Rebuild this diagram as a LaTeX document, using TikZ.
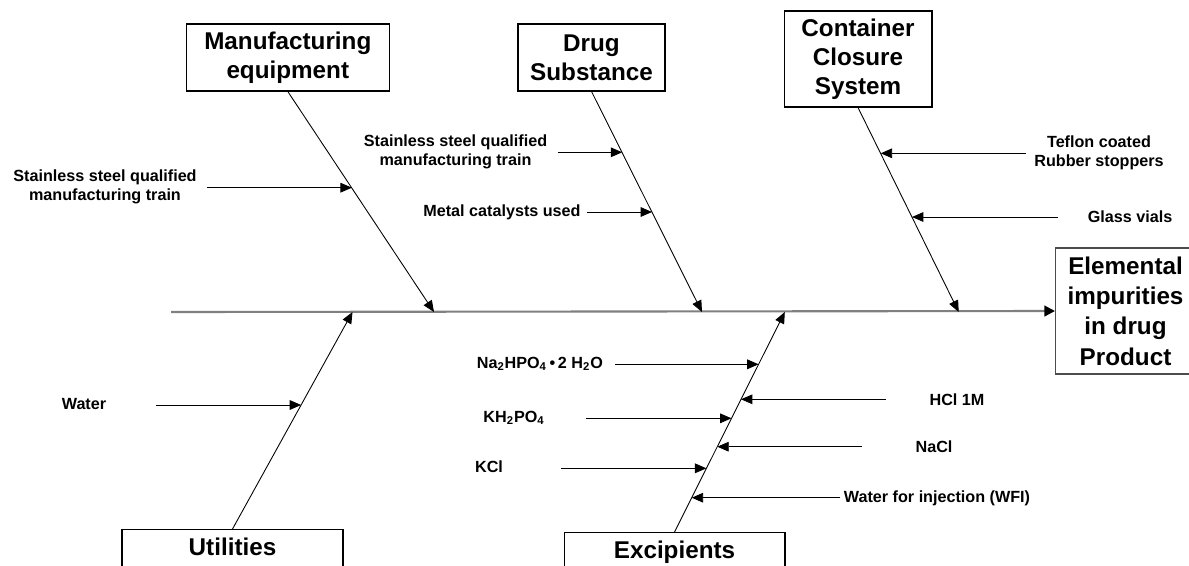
\documentclass[tikz,border=0pt]{standalone}
\usepackage{fontspec}
\setmainfont{Liberation Sans}
\usepackage{tikz}
\usetikzlibrary{arrows.meta}
\newcommand{\causefont}{\fontsize{13.8}{16.4}\selectfont\bfseries}
\newcommand{\factorfont}{\fontsize{9.2}{10.8}\selectfont\bfseries}
\tikzstyle{cause} = [rectangle, draw=black, line width=0.6pt, inner sep=0pt, text centered, align=center, font=\causefont]
\tikzstyle{factor} = [inner sep=0pt, text centered, align=center, font=\factorfont]
\tikzstyle{spine} = [line width=1.2pt, draw=black!50, -{Triangle[length=6pt,width=6pt,color=black]}]
\tikzstyle{bone} = [line width=0.5pt, -{Triangle[length=6.5pt,width=5.5pt]}]
\tikzstyle{arrow} = [line width=0.5pt, -{Triangle[length=6.5pt,width=5.5pt]}]

\begin{document}
\begin{tikzpicture}[x=0.02cm, y=-0.02cm]
   \useasboundingbox (0,0) rectangle (1189,565);
   % main causes
   \node (me) [cause, minimum width=4.06cm, minimum height=1.34cm] at (287.8,57.5) {Manufacturing\\equipment};
   \node (ds) [cause, minimum width=2.94cm, minimum height=1.34cm] at (591.5,57.5) {Drug\\Substance};
   \node (cc) [cause, minimum width=2.96cm, minimum height=1.92cm] at (858,59) {Container\\Closure\\System};
   \node (ut) [cause, anchor=north, minimum width=4.42cm, inner ysep=5pt, text depth=1.2cm] at (232.5,529) {Utilities};
   \node (ex) [cause, anchor=north, minimum width=4.42cm, inner ysep=5pt, text depth=1.2cm] at (674.5,532) {Excipients};
   \node (eff) [cause, anchor=west, draw=black!70, minimum width=2.8cm, minimum height=2.52cm, font=\fontsize{13.8}{17.2}\selectfont\bfseries] at (1055,311) {Elemental\\impurities\\in drug\\Product};

   % spine and bones
   \coordinate (tail) at (171,312);
   \coordinate (me-tip) at (434,312);
   \coordinate (ds-tip) at (702,312);
   \coordinate (cc-tip) at (958.7,312);
   \coordinate (ut-tip) at (352.5,312);
   \coordinate (ex-tip) at (784.8,312);
   \draw [spine] (tail) -- (eff.west);
   \draw [bone] (me.south) -- (me-tip);
   \draw [bone] (ds.south) -- (ds-tip);
   \draw [bone] (cc.south) -- (cc-tip);
   \draw [bone] (ut.north) -- (ut-tip);
   \draw [bone] (ex.north) -- (ex-tip);

   % Manufacturing equipment
   \node (me1) [factor] at (105,187) {Stainless steel qualified\\manufacturing train};
   \coordinate (me1-a) at (206.7,187.7);
   \coordinate (me1-b) at (351.9,187.7);
   \draw [arrow] (me1-a) -- (me1-b);

   % Drug Substance
   \node (ds1) [factor] at (455.5,152) {Stainless steel qualified\\manufacturing train};
   \node (ds2) [factor] at (502,212) {Metal catalysts used};
   \coordinate (ds1-a) at (557.6,152.3);
   \coordinate (ds1-b) at (622.2,152.3);
   \coordinate (ds2-a) at (587.4,212);
   \coordinate (ds2-b) at (652,212);
   \draw [arrow] (ds1-a) -- (ds1-b);
   \draw [arrow] (ds2-a) -- (ds2-b);

   % Container Closure System
   \node (cc1) [factor] at (1099,153) {Teflon coated\\Rubber stoppers};
   \node (cc2) [factor] at (1130,217) {Glass vials};
   \coordinate (cc1-a) at (1025.6,153.3);
   \coordinate (cc1-b) at (880.7,153.3);
   \coordinate (cc2-a) at (1058,217);
   \coordinate (cc2-b) at (912,217);
   \draw [arrow] (cc1-a) -- (cc1-b);
   \draw [arrow] (cc2-a) -- (cc2-b);

   % Utilities
   \node (ut1) [factor] at (84,404.5) {Water};
   \coordinate (ut1-a) at (156,405);
   \coordinate (ut1-b) at (301.1,405);
   \draw [arrow] (ut1-a) -- (ut1-b);

   % Excipients
   \node (ex1) [factor, anchor=west] at (476.5,364) {Na\textsubscript{2}HPO\textsubscript{4}\,•\,2 H\textsubscript{2}O};
   \node (ex2) [factor] at (514,418) {KH\textsubscript{2}PO\textsubscript{4}};
   \node (ex3) [factor] at (489,467) {KCl};
   \node (ex4) [factor] at (957,400) {HCl 1M};
   \node (ex5) [factor] at (934,447) {NaCl};
   \node (ex6) [factor] at (937,498) {Water for injection (WFI)};
   \coordinate (ex1-a) at (615,364.3);
   \coordinate (ex1-b) at (758.6,364.3);
   \coordinate (ex2-a) at (585.5,418.3);
   \coordinate (ex2-b) at (731.5,418.3);
   \coordinate (ex3-a) at (561,468.3);
   \coordinate (ex3-b) at (706.4,468.3);
   \coordinate (ex4-a) at (885.5,399.3);
   \coordinate (ex4-b) at (741,399.3);
   \coordinate (ex5-a) at (862,446.7);
   \coordinate (ex5-b) at (717.3,446.7);
   \coordinate (ex6-a) at (840,497.7);
   \coordinate (ex6-b) at (691.7,497.7);
   \draw [arrow] (ex1-a) -- (ex1-b);
   \draw [arrow] (ex2-a) -- (ex2-b);
   \draw [arrow] (ex3-a) -- (ex3-b);
   \draw [arrow] (ex4-a) -- (ex4-b);
   \draw [arrow] (ex5-a) -- (ex5-b);
   \draw [arrow] (ex6-a) -- (ex6-b);
\end{tikzpicture}
\end{document}
